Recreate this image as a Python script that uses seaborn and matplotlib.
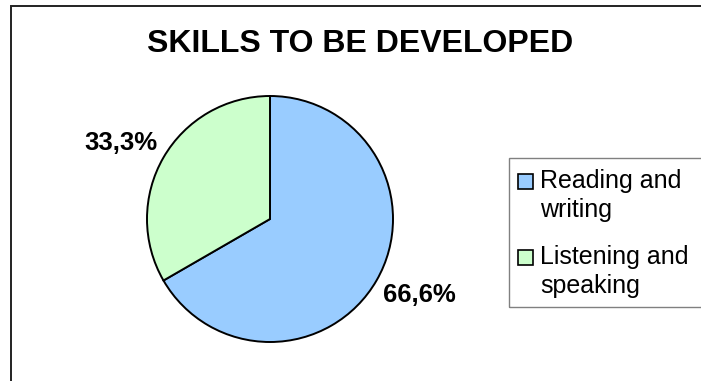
import matplotlib
matplotlib.use("Agg")
import matplotlib.pyplot as plt
from matplotlib.patches import Rectangle
import numpy as np
import seaborn as sns

# Chart data
categories = ["Reading and\nwriting", "Listening and\nspeaking"]
shares = [66.6, 33.3]
colors = ["#99CCFF", "#CCFFCC"]
title = "SKILLS TO BE DEVELOPED"

sns.set_theme(style="white")
plt.rcParams["font.family"] = ["Liberation Sans", "DejaVu Sans"]
plt.rcParams["text.color"] = "black"

W, H = 701, 381
fig = plt.figure(figsize=(W / 100, H / 100), dpi=100)
fig.patch.set_facecolor("white")


def px(x, y):
    """Pixel position (from top-left) to figure fraction."""
    return x / W, 1 - y / H


# outer chart frame (runs off the right and bottom edges)
fig.patches.append(Rectangle(px(10.5, 400), 1.2, (400 - 6.5) / H,
                             transform=fig.transFigure, fill=False,
                             edgecolor="#222222", linewidth=1.4, clip_on=False))

cx, cy, r = 270, 219, 123
ax = fig.add_axes([(cx - r) / W, (H - cy - r) / H, 2 * r / W, 2 * r / H])

total = sum(shares)
label_dist = 1.36
wedges, _, autotexts = ax.pie(
    shares, colors=colors, startangle=90, counterclock=False,
    wedgeprops=dict(edgecolor="black", linewidth=1.4),
    autopct=lambda p: f"{p * total / 100:.1f}%".replace(".", ","),
    pctdistance=label_dist,
    textprops=dict(fontsize=18.5, fontweight="bold", color="black"),
)
# nudge the value labels a little counter-clockwise around the pie
for w, t in zip(wedges, autotexts):
    ang = np.deg2rad((w.theta1 + w.theta2) / 2 + 3)
    t.set_position((label_dist * np.cos(ang), label_dist * np.sin(ang)))
ax.set_xlim(-1, 1)
ax.set_ylim(-1, 1)
ax.set_aspect("equal")
ax.axis("off")

fig.text(*px(360, 44), title, ha="center", va="center",
         fontsize=23, fontweight="bold", color="black")

# legend box, drawn by hand so the swatch sits beside the first text line
fig.patches.append(Rectangle(px(509, 307), 1.0, (307 - 158) / H,
                             transform=fig.transFigure, fill=False,
                             edgecolor="#808080", linewidth=1.0, clip_on=False))
sw = 15
for i, (label, color) in enumerate(zip(categories, colors)):
    last_base = 217 + i * 76      # baseline of the label's last line
    first_base = last_base - 29   # baseline of its first line
    fig.patches.append(Rectangle(px(518, first_base + 1), sw / W, sw / H,
                                 transform=fig.transFigure, facecolor=color,
                                 edgecolor="black", linewidth=1.2))
    fig.text(*px(540, last_base), label, ha="left", va="baseline",
             fontsize=18, color="black", linespacing=1.27)

fig.savefig("out.png", dpi=100, facecolor="white")
